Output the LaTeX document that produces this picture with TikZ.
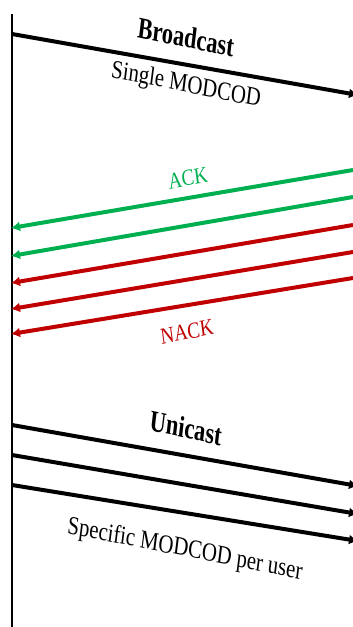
\documentclass[tikz,border=0pt]{standalone}
\usepackage{fontspec}
\setmainfont{Liberation Serif}
\usetikzlibrary{arrows.meta}
\definecolor{ackgreen}{RGB}{0,176,80}
\definecolor{nackred}{RGB}{192,0,0}
\begin{document}
\begin{tikzpicture}[x=1pt,y=-1pt,
  msg/.style={line width=4pt,-{Latex[length=9pt,width=10pt]}},
  title/.style={font=\bfseries\fontsize{30}{32}\selectfont,xscale=0.75,inner sep=0pt},
  note/.style={font=\fontsize{26}{28}\selectfont,xscale=0.8,inner sep=0pt},
  reply/.style={font=\fontsize{23}{25}\selectfont,xscale=0.82,inner sep=0pt}]
\useasboundingbox (0,0) rectangle (353,627);
% time axis of the gateway
\coordinate (top) at (12,14);
\coordinate (bot) at (12,630);
\draw[line width=2.5pt] (top) -- (bot);

% broadcast frame
\coordinate (b0) at (12,34);
\coordinate (b1) at (358,95);
\draw[msg] (b0) -- (b1);
\node[title,rotate=-9] (bcast) at (186,37) {Broadcast};
\node[note,rotate=-9] (single) at (186,86) {Single MODCOD};

% acknowledgements coming back
\coordinate (a1r) at (353,170); \coordinate (a1l) at (11,228);
\coordinate (a2r) at (353,197); \coordinate (a2l) at (11,256);
\coordinate (n1r) at (353,225); \coordinate (n1l) at (11,283);
\coordinate (n2r) at (353,252); \coordinate (n2l) at (11,309);
\coordinate (n3r) at (353,278); \coordinate (n3l) at (11,334);
\draw[msg,ackgreen] (a1r) -- (a1l);
\draw[msg,ackgreen] (a2r) -- (a2l);
\draw[msg,nackred] (n1r) -- (n1l);
\draw[msg,nackred] (n2r) -- (n2l);
\draw[msg,nackred] (n3r) -- (n3l);
\node[reply,ackgreen,rotate=9] (ack) at (188,178) {ACK};
\node[reply,nackred,rotate=9] (nack) at (187,332) {NACK};

% unicast frames
\coordinate (u1l) at (12,425); \coordinate (u1r) at (358,486);
\coordinate (u2l) at (12,455); \coordinate (u2r) at (358,514);
\coordinate (u3l) at (12,485); \coordinate (u3r) at (358,541);
\draw[msg] (u1l) -- (u1r);
\draw[msg] (u2l) -- (u2r);
\draw[msg] (u3l) -- (u3r);
\node[title,rotate=-9] (ucast) at (186,428) {Unicast};
\node[note,rotate=-9] (spec) at (185,550) {Specific MODCOD per user};
\end{tikzpicture}
\end{document}
